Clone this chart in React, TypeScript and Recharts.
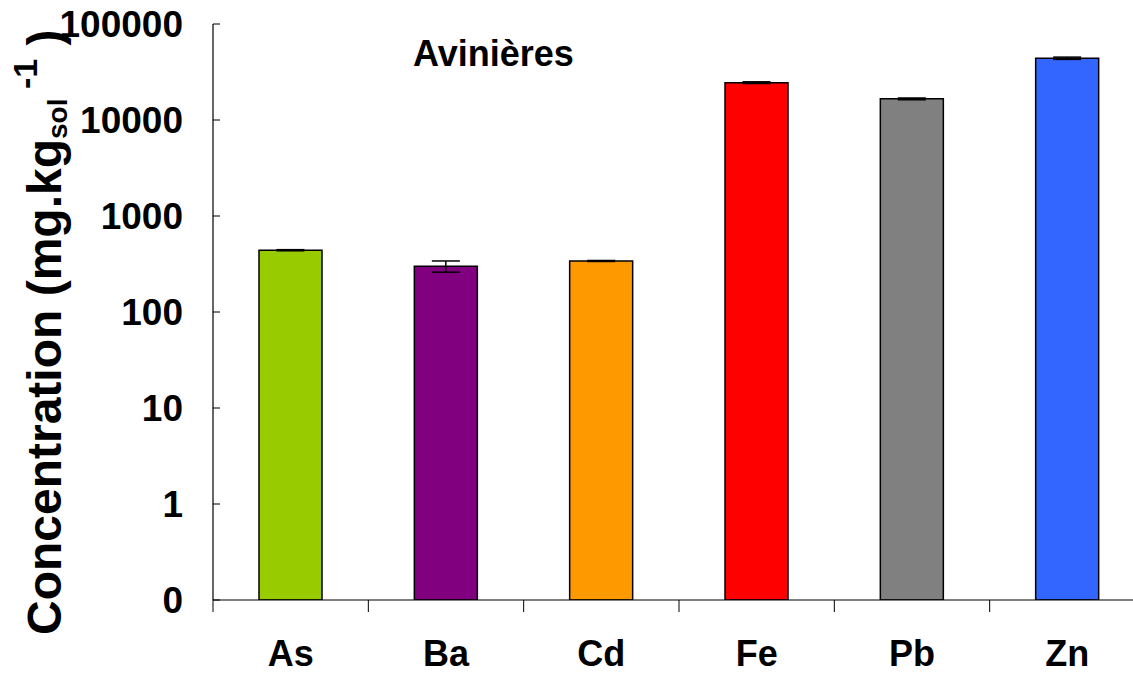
import { Bar, BarChart, Cell, ErrorBar, XAxis, YAxis } from 'recharts';

const elements = ['As', 'Ba', 'Cd', 'Fe', 'Pb', 'Zn'];
const concentrations = [440, 300, 340, 24500, 16600, 44000];
const errors = [6, 40, 4, 500, 350, 1200];
const barColors = ['#99CC00', '#800080', '#FF9900', '#FF0000', '#808080', '#3366FF'];
const yTicks = [0.1, 1, 10, 100, 1000, 10000, 100000];
const siteName = 'Avinières';

const data = elements.map((el, i) => ({
  element: el,
  value: concentrations[i],
  err: errors[i],
}));

const font = '"Liberation Sans", Arial, sans-serif';

// x ticks sit between the categories, like in the original figure
const XTick = (props: any) => {
  const { x, y, payload } = props;
  const half = payload && payload.offset ? payload.offset : 0;
  return (
    <g>
      <line x1={x - half} y1={y} x2={x - half} y2={y + 12} stroke="#000" strokeWidth={1} />
      <text
        x={x}
        y={y + 66}
        textAnchor="middle"
        fontFamily={font}
        fontWeight="bold"
        fontSize={36}
        fill="#000"
      >
        {payload.value}
      </text>
    </g>
  );
};

// y ticks point inwards, labels stay outside
const YTick = (props: any) => {
  const { x, y, payload } = props;
  const v = payload.value as number;
  return (
    <g>
      <line x1={x} y1={y} x2={x + 7} y2={y} stroke="#000" strokeWidth={1} />
      <text
        x={x - 30}
        y={y}
        dy="0.36em"
        textAnchor="end"
        fontFamily={font}
        fontWeight="bold"
        fontSize={37}
        fill="#000"
      >
        {v < 1 ? '0' : String(v)}
      </text>
    </g>
  );
};

const YTitle = () => (
  <text
    x={61}
    y={635}
    transform="rotate(-90 61 635)"
    fontFamily={font}
    fontWeight="bold"
    fontSize={48}
    fill="#000"
  >
    Concentration (mg.kg
    <tspan fontSize={28} dy={6}>sol</tspan>
    <tspan fontSize={34} dy={-30}> -1</tspan>
    <tspan fontSize={48} dy={24}> )</tspan>
  </text>
);

export default function App() {
  return (
    <div
      style={{
        position: 'absolute',
        left: 0,
        top: 0,
        width: 1133,
        height: 674,
        overflow: 'hidden',
        background: '#fff',
      }}
    >
      <BarChart
        width={1150}
        height={674}
        data={data}
        margin={{ top: 24, right: 5, left: 0, bottom: 0 }}
      >
        <XAxis
          dataKey="element"
          height={74}
          tickLine={false}
          tickSize={0}
          tickMargin={0}
          axisLine={{ stroke: '#000', strokeWidth: 1.2 }}
          tick={<XTick />}
        />
        <YAxis
          scale="log"
          domain={[0.1, 100000]}
          ticks={yTicks}
          allowDataOverflow
          width={213}
          tickLine={false}
          tickSize={0}
          tickMargin={0}
          axisLine={{ stroke: '#000', strokeWidth: 1.2 }}
          tick={<YTick />}
          label={<YTitle />}
        />
        <Bar
          dataKey="value"
          barSize={63}
          stroke="#000"
          strokeWidth={1.5}
          isAnimationActive={false}
        >
          {data.map((d, i) => (
            <Cell key={d.element} fill={barColors[i]} />
          ))}
          <ErrorBar dataKey="err" width={14} stroke="#000" strokeWidth={1.5} />
        </Bar>
      </BarChart>
      <div
        style={{
          position: 'absolute',
          left: 413,
          top: 36,
          fontFamily: font,
          fontWeight: 'bold',
          fontSize: 36,
          lineHeight: 1,
          color: '#000',
        }}
      >
        {siteName}
      </div>
    </div>
  );
}
